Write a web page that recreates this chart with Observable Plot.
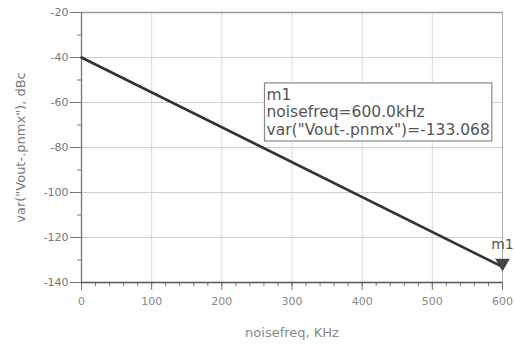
<!DOCTYPE html>
<html>
<head>
<meta charset="utf-8">
<script src="https://cdn.jsdelivr.net/npm/d3@7"></script>
<script src="https://cdn.jsdelivr.net/npm/@observablehq/plot@0.6"></script>
<style>
  html, body { margin: 0; padding: 0; background: #fff; }
  #chart { width: 514px; height: 344px; overflow: hidden; }
</style>
</head>
<body>
<div id="chart"></div>
<script>
// Data
const noiseFreq = [0, 600];               // kHz
const noiseVar = [-40, -133.068];         // dBc
const markerFreq = [600];
const markerVal = [-133.068];
const markerName = "m1";
const markerLines = ["m1", "noisefreq=600.0kHz", 'var("Vout-.pnmx")=-133.068'];
const xTicks = [0, 100, 200, 300, 400, 500, 600];
const xMinor = d3.range(0, 601, 20);
const yTicks = [-20, -40, -60, -80, -100, -120, -140];
const yMinor = d3.range(-140, -19, 10);
const xLabel = "noisefreq, KHz";
const yLabel = 'var("Vout-.pnmx"), dBc';

const lineData = noiseFreq.map((f, i) => ({f, v: noiseVar[i]}));
const markData = markerFreq.map((f, i) => ({f, v: markerVal[i]}));
const FONT = "DejaVu Sans, Verdana, sans-serif";

const plot = Plot.plot({
  width: 514,
  height: 344,
  marginLeft: 81,
  marginRight: 12,
  marginTop: 12,
  marginBottom: 62,
  style: {fontFamily: FONT, fontSize: "11px", color: "#666", background: "#fff"},
  x: {domain: [0, 600]},
  y: {domain: [-140, -20]},
  marks: [
    Plot.gridX(xTicks, {stroke: "#dadada", strokeOpacity: 1}),
    Plot.gridY(yTicks, {stroke: "#d0d0d0", strokeOpacity: 1}),
    Plot.ruleY([-20], {stroke: "#999", strokeWidth: 1.3}),
    Plot.ruleX([600], {stroke: "#b0b0b0", strokeWidth: 1}),
    Plot.axisY(yMinor, {tickSize: 4, tickFormat: () => "", stroke: "#777", label: null}),
    Plot.axisY(yTicks, {tickSize: 11, tickPadding: 2, stroke: "#777", fill: "#777", tickFormat: d => String(d),
      label: yLabel, labelAnchor: "center", labelArrow: "none", labelOffset: 66, fontSize: 11}),
    Plot.axisX(xMinor, {tickSize: 4, tickFormat: () => "", stroke: "#777", label: null}),
    Plot.axisX(xTicks, {tickSize: 8, tickPadding: 7, stroke: "#777", fill: "#888",
      label: xLabel, labelAnchor: "center", labelArrow: "none", labelOffset: 54, fontSize: 11}),
    Plot.ruleX([0], {stroke: "#777", strokeWidth: 1.3}),
    Plot.ruleY([-140], {stroke: "#555", strokeWidth: 1.5}),
    Plot.line(lineData, {x: "f", y: "v", stroke: "#333", strokeWidth: 2.6}),
    Plot.dot(markData, {x: "f", y: "v", symbol: "triangle", rotate: 180, r: 4.5, fill: "#444", stroke: "#444", dy: -4}),
    Plot.text(markData, {x: "f", y: "v", text: () => markerName, dx: 0, dy: -22, fontSize: 14, fill: "#555"}),
    Plot.text([markerLines.join("\n")], {frameAnchor: "top-left", dx: 185, dy: 75, lineAnchor: "top",
      textAnchor: "start", fontSize: 15.5, lineHeight: 1.13, fill: "#555", className: "mbox"})
  ]
});
document.getElementById("chart").appendChild(plot);

// axis label sizes
plot.querySelectorAll("[aria-label='y-axis label'] text, [aria-label='x-axis label'] text")
  .forEach(el => el.setAttribute("font-size", 13));

// Box around the marker readout
const t = plot.querySelector(".mbox text");
if (t) {
  const b = t.getBBox();
  d3.select(t.parentNode).insert("rect", "text")
    .attr("transform", t.getAttribute("transform"))
    .attr("x", b.x - 2).attr("y", b.y - 3)
    .attr("width", b.width + 4).attr("height", b.height + 5)
    .attr("fill", "#fff").attr("stroke", "#888").attr("stroke-width", 1.2);
}
</script>
</body>
</html>
